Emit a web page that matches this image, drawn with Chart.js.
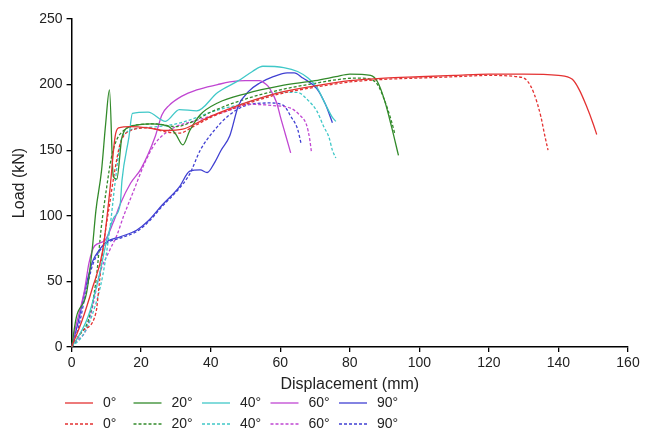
<!DOCTYPE html>
<html>
<head>
<meta charset="utf-8">
<script src="https://cdn.jsdelivr.net/npm/chart.js@4.4.1/dist/chart.umd.min.js"></script>
<style>
  html, body { margin: 0; padding: 0; background: #fff; }
  #wrap { width: 650px; height: 430px; position: relative; }
</style>
</head>
<body>
<div id="wrap"><canvas id="loadChart"></canvas></div>
<script>
// load-displacement curves, [displacement mm, load kN]
const solid0 = [[0,0],[3,20],[6,45],[9,74],[11,119],[12.5,160],[13.5,167],[17,168],[22,167],[27,165],[32,166],[37,172],[42,178],[50,186],[60,194],[70,199],[80,203],[90,205],[100,206],[110,207],[120,208],[130,208],[140,207],[144,204],[146,196],[148,184],[150,170],[151,162]];
const dash0 = [[0,0],[3,12],[7,26],[8,49],[9,74],[11,110],[12.4,134],[14,155],[17,165],[22,167],[27,164],[31,163],[35,168],[40,175],[50,185],[60,193],[70,198],[80,202],[90,204],[100,205],[110,206],[120,207],[128,206],[131,203],[133,193],[135,175],[136,162],[137,150]];
const solid20 = [[0,0],[1.4,23],[4.3,41],[6,76],[7,104],[8.6,134],[9.8,170],[10.9,196],[12,130],[13,128],[14.5,160],[17,168],[23,170],[28,168],[30,162],[32,154],[34,165],[37,177],[42,186],[50,193],[60,199],[70,203],[76,206],[80,208],[86,207],[88,202],[90,188],[92,168],[94,146]];
const dash20 = [[0,0],[2,8],[5,22],[7,50],[8.5,90],[10,120],[11.5,145],[13,158],[15,165],[18,169],[24,170],[30,168],[35,172],[40,179],[50,189],[60,196],[70,201],[77,204],[82,205],[86,204],[88,200],[90,188],[92,172],[93,162]];
const solid40 = [[0,0],[2,8],[5,25],[8,55],[10,80],[12,98],[14,109],[14.5,127],[16.5,160],[17.5,178],[22,179],[27,172],[31,181],[36,180],[42,194],[48,203],[52,210],[55,214],[61,213],[65,210],[68,205],[70.5,198],[73,185],[75,175],[76,172]];
const dash40 = [[0,0],[3,8],[6,25],[9,55],[11,90],[12.5,125],[14,155],[16,164],[20,167],[25,168],[30,170],[35,174],[40,179],[50,186],[55,190],[60,194],[65,194],[68,188],[70.5,180],[72.5,168],[74,160],[75,150],[76,144]];
const solid60 = [[0,0],[1,13],[3.7,43],[5,64],[6.6,77],[9.5,81],[12,95],[14,109],[17,125],[20,136],[24,160],[26,177],[28,184],[31.6,191],[36,196],[42,200],[45.5,202],[50,203],[54,203],[56,200],[57,197],[59,186],[60,176],[61.5,162],[63,148]];
const dash60 = [[0,0],[2,6],[4,12],[6,30],[8,55],[11,74],[13,85],[15,100],[18,120],[21,140],[24,155],[27,163],[30,168],[35,172],[40,176],[45,180],[51,185],[58,184],[63,182],[65.5,177],[67.6,169],[68.5,158],[69,148]];
const solid90 = [[0,0],[2,20],[4,45],[6,65],[8,74],[10,80],[14,84],[18.7,89],[22,96],[26,108],[31,122],[34,134],[37,135],[39,133],[41,140],[43,150],[45.5,161],[48,184],[51,195],[54,201],[58,206],[62,209],[64,209],[66.5,205],[70.5,197],[73,185],[75,171]];
const dash90 = [[0,0],[2,15],[4,40],[6,62],[8,73],[10,79],[14,83],[18.7,88],[22,95],[26,107],[31,121],[34,132],[37,150],[41,165],[45,176],[50,184],[57,186],[61,184],[63,176],[65,166],[66,155]];

const angleLabels = ["0°", "20°", "40°", "60°", "90°"];
const angleColors = ["rgb(228,50,50)", "rgb(50,138,42)", "rgb(64,200,200)", "rgb(192,70,210)", "rgb(64,64,210)"];
const solidSeries = [solid0, solid20, solid40, solid60, solid90];
const dashSeries = [dash0, dash20, dash40, dash60, dash90];

const xTicks = [0, 20, 40, 60, 80, 100, 120, 140, 160];
const yTicks = [0, 50, 100, 150, 200, 250];

function makeDataset(points, label, color, dashed) {
    return {
        label: label,
        data: points.map(p => ({ x: p[0], y: p[1] })),
        borderColor: color,
        backgroundColor: color,
        borderWidth: 1.3,
        borderDash: dashed ? [3, 2] : [],
        pointRadius: 0,
        fill: false,
        cubicInterpolationMode: 'monotone',
        dashed: dashed
    };
}

const datasets = [];
for (let i = 0; i < 5; i++) datasets.push(makeDataset(solidSeries[i], angleLabels[i], angleColors[i], false));
for (let i = 0; i < 5; i++) datasets.push(makeDataset(dashSeries[i], angleLabels[i], angleColors[i], true));

// two-row legend under the x axis title
const bottomLegend = {
    id: 'bottomLegend',
    afterDraw(chart) {
        const ctx = chart.ctx;
        ctx.save();
        ctx.font = '14px "Liberation Sans", Arial, sans-serif';
        ctx.textBaseline = 'middle';
        chart.data.datasets.forEach((ds, i) => {
            const row = ds.dashed ? 1 : 0;
            const col = i % 5;
            const x = 65 + col * 68.5;
            const y = 403 + row * 21;
            ctx.strokeStyle = ds.borderColor;
            ctx.lineWidth = 1.3;
            ctx.setLineDash(ds.dashed ? [3, 2] : []);
            ctx.beginPath();
            ctx.moveTo(x, y);
            ctx.lineTo(x + 28, y);
            ctx.stroke();
            ctx.setLineDash([]);
            ctx.fillStyle = '#222';
            ctx.fillText(ds.label, x + 38, y);
        });
        ctx.restore();
    }
};

const axisFont = { family: '"Liberation Sans", Arial, sans-serif', size: 14 };
const titleFont = { family: '"Liberation Sans", Arial, sans-serif', size: 16 };

new Chart(document.getElementById('loadChart'), {
    type: 'line',
    data: { datasets: datasets },
    options: {
        responsive: true,
        maintainAspectRatio: false,
        animation: false,
        layout: { padding: { left: 10, right: 22, top: 19, bottom: 36 } },
        plugins: {
            legend: { display: false },
            tooltip: { enabled: false }
        },
        scales: {
            x: {
                type: 'linear',
                min: 0,
                max: 160,
                afterBuildTicks: axis => { axis.ticks = xTicks.map(v => ({ value: v })); },
                ticks: { color: '#222', font: axisFont, padding: 3, maxRotation: 0 },
                grid: { drawOnChartArea: false, drawTicks: true, tickLength: 5, color: '#000', lineWidth: 1.3 },
                border: { color: '#000', width: 1.5 },
                title: { display: true, text: 'Displacement (mm)', color: '#222', font: titleFont, padding: { top: 0, bottom: 0 } }
            },
            y: {
                type: 'linear',
                min: 0,
                max: 250,
                afterBuildTicks: axis => { axis.ticks = yTicks.map(v => ({ value: v })); },
                ticks: { color: '#222', font: axisFont, padding: 4 },
                grid: { drawOnChartArea: false, drawTicks: true, tickLength: 5, color: '#000', lineWidth: 1.3 },
                border: { color: '#000', width: 1.5 },
                title: { display: true, text: 'Load (kN)', color: '#222', font: titleFont, padding: { top: 0, bottom: 6 } }
            }
        }
    },
    plugins: [bottomLegend]
});
</script>
</body>
</html>
